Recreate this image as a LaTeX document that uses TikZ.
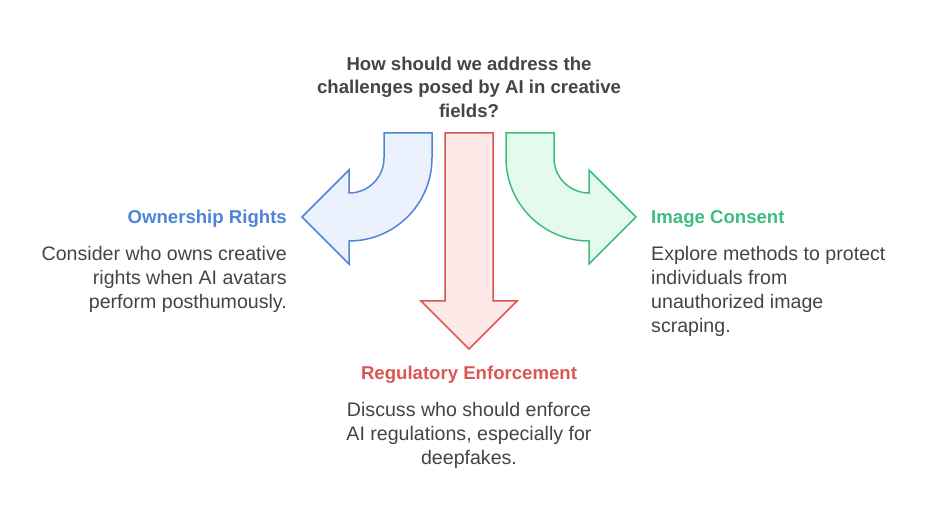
\documentclass[tikz,border=0pt]{standalone}
\usepackage{fontspec}
\setmainfont{Liberation Sans}
\definecolor{txt}{HTML}{444444}
\definecolor{bstroke}{HTML}{4E84DA}
\definecolor{bfill}{HTML}{EBF2FD}
\definecolor{rstroke}{HTML}{DC5651}
\definecolor{rfill}{HTML}{FDE9E8}
\definecolor{gstroke}{HTML}{3DBD7E}
\definecolor{gfill}{HTML}{E3FAEC}
\tikzset{
  arrowshape/.style={line width=1.5pt, line join=miter},
  headtext/.style={font=\bfseries\fontsize{18.6}{23.5}\selectfont, inner sep=0pt},
  bodytext/.style={font=\fontsize{19.6}{24}\selectfont, text=txt, inner sep=0pt},
}
\begin{document}
\begin{tikzpicture}[x=1pt,y=1pt]
\useasboundingbox (0,0) rectangle (926,519);
% blue arrow
\draw[arrowshape, draw=bstroke, fill=bfill]
  (384,386) -- (432,386) -- (432,361) arc[start angle=0,end angle=-90,radius=83pt]
  -- (349,255) -- (302,302) -- (349,349) -- (349,326)
  arc[start angle=-90,end angle=0,radius=35pt] -- cycle;
% red arrow
\draw[arrowshape, draw=rstroke, fill=rfill]
  (445,386) -- (493,386) -- (493,218) -- (517,218) -- (469,170) -- (421,218) -- (445,218) -- cycle;
% green arrow
\draw[arrowshape, draw=gstroke, fill=gfill]
  (554,386) -- (506,386) -- (506,361) arc[start angle=180,end angle=270,radius=83pt]
  -- (589,255) -- (636,302) -- (589,349) -- (589,326)
  arc[start angle=270,end angle=180,radius=35pt] -- cycle;
% texts
\node[headtext, text=txt, align=center] (q) at (469,432) {How should we address the\\challenges posed by AI in creative\\fields?};
\node[headtext, text=bstroke, anchor=east] (own) at (287,300) {Ownership Rights};
\node[bodytext, anchor=east, align=right] (ownb) at (287,240) {Consider who owns creative\\rights when AI avatars\\perform posthumously.};
\node[headtext, text=gstroke, anchor=west] (img) at (651,300) {Image Consent};
\node[bodytext, anchor=west, align=left] (imgb) at (651,228) {Explore methods to protect\\individuals from\\unauthorized image\\scraping.};
\node[headtext, text=rstroke] (reg) at (469,144) {Regulatory Enforcement};
\node[bodytext, align=center] (regb) at (469,84) {Discuss who should enforce\\AI regulations, especially for\\deepfakes.};
\end{tikzpicture}
\end{document}
